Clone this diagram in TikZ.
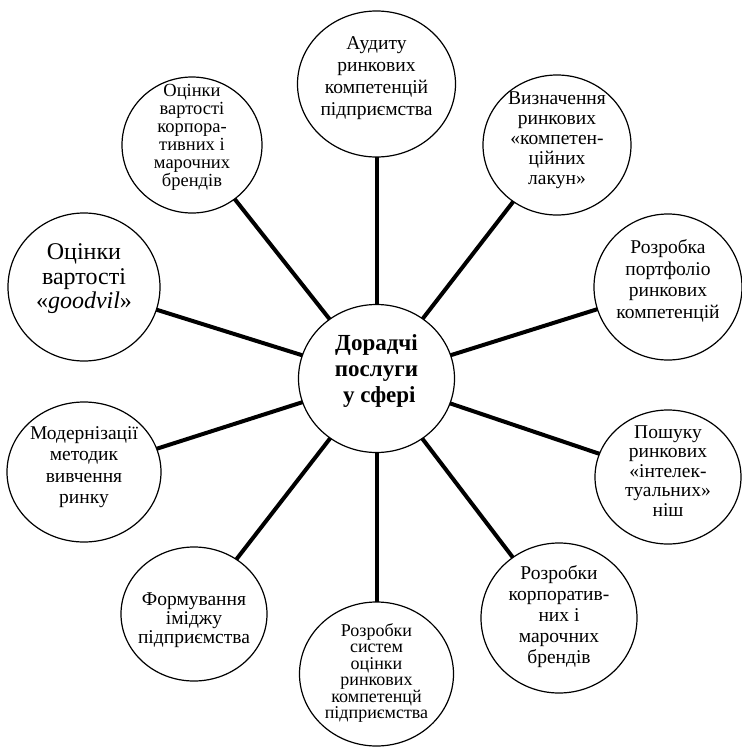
\documentclass[tikz,border=0pt]{standalone}
\usepackage{fontspec}
\setmainfont{Liberation Serif}
\usetikzlibrary{shapes.geometric}

\tikzset{
  bub/.style={draw, line width=1.2pt, ellipse, fill=white, inner sep=0pt, outer sep=0pt},
  lbl/.style={align=center, inner sep=0pt},
  link/.style={line width=4pt},
  fs/.style={font=\fontsize{19.5}{#1}\selectfont},
}

\begin{document}
\begin{tikzpicture}
  \useasboundingbox (0pt,0pt) rectangle (742pt,-748pt);

  % hub and the ten service bubbles (ellipse sizes in pt)
  \node[bub, minimum width=156pt, minimum height=148pt] (c)   at (376.5pt,-378.5pt) {};
  \node[bub, minimum width=158pt, minimum height=146pt] (n1)  at (376.5pt,-84pt)  {};
  \node[bub, minimum width=148pt, minimum height=140pt] (n2)  at (557pt,-145pt)   {};
  \node[bub, minimum width=148pt, minimum height=146pt] (n3)  at (668pt,-287pt)   {};
  \node[bub, minimum width=146pt, minimum height=134pt] (n4)  at (668pt,-477pt)   {};
  \node[bub, minimum width=156pt, minimum height=150pt] (n5)  at (559pt,-618pt)   {};
  \node[bub, minimum width=154pt, minimum height=144pt] (n6)  at (376.5pt,-674pt) {};
  \node[bub, minimum width=146pt, minimum height=134pt] (n7)  at (194pt,-614pt)   {};
  \node[bub, minimum width=154pt, minimum height=140pt] (n8)  at (84pt,-472pt)    {};
  \node[bub, minimum width=152pt, minimum height=148pt] (n9)  at (84pt,-287pt)    {};
  \node[bub, minimum width=140pt, minimum height=136pt] (n10) at (192pt,-145pt)   {};

  % spokes
  \foreach \n in {n1,n2,n3,n4,n5,n6,n7,n8,n9,n10}
    \draw[link] (c) -- (\n);

  % labels
  \node[lbl, font=\bfseries\fontsize{23}{26}\selectfont] (tc) at ([yshift=8pt]c.center)
    {Дорадчі\\послуги\\\ у сфері};
  \node[lbl, fs=22] (t1) at ([yshift=6pt]n1.center)
    {Аудиту\\ринкових\\компетенцій\\підприємства};
  \node[lbl, fs=20] (t2) at ([yshift=5pt]n2.center)
    {Визначення\\ринкових\\«компетен-\\ційних\\лакун»};
  \node[lbl, fs=21.5] (t3) at ([yshift=6pt]n3.center)
    {Розробка\\портфоліо\\ринкових\\компетенцій};
  \node[lbl, fs=19.5] (t4) at ([yshift=6pt]n4.center)
    {Пошуку\\ринкових\\«інтелек-\\туальних»\\ніш};
  \node[lbl, fs=21] (t5) at ([yshift=1pt]n5.center)
    {Розробки\\корпоратив-\\них і\\марочних\\брендів};
  \node[lbl, font=\fontsize{18}{16.5}\selectfont] (t6) at ([yshift=1pt]n6.center)
    {Розробки\\систем\\оцінки\\ринкових\\компетенцй\\підприємства};
  \node[lbl, fs=19] (t7) at ([yshift=-6pt]n7.center)
    {Формування\\іміджу\\підприємства};
  \node[lbl, fs=21.5] (t8) at ([yshift=5pt]n8.center)
    {Модернізації\\методик\\вивчення\\ринку};
  \node[lbl, font=\fontsize{24}{24.5}\selectfont] (t9) at ([yshift=8pt]n9.center)
    {Оцінки\\вартості\\«\textit{goodvil}»};
  \node[lbl, font=\fontsize{18.5}{18}\selectfont] (t10) at ([yshift=8pt]n10.center)
    {Оцінки\\вартості\\корпора-\\тивних і\\марочних\\брендів};
\end{tikzpicture}
\end{document}
